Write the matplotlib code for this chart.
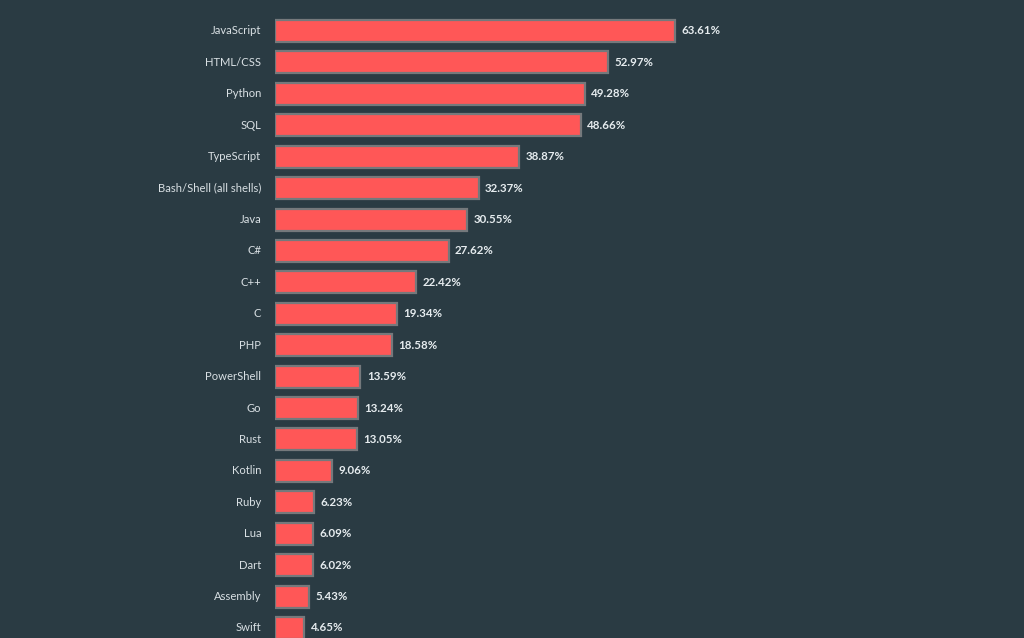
import matplotlib
matplotlib.use("Agg")
import matplotlib.pyplot as plt

# Most used programming languages (share of respondents, %)
languages = ["JavaScript", "HTML/CSS", "Python", "SQL", "TypeScript",
             "Bash/Shell (all shells)", "Java", "C#", "C++", "C", "PHP",
             "PowerShell", "Go", "Rust", "Kotlin", "Ruby", "Lua", "Dart",
             "Assembly", "Swift"]
shares = [63.61, 52.97, 49.28, 48.66, 38.87, 32.37, 30.55, 27.62, 22.42,
          19.34, 18.58, 13.59, 13.24, 13.05, 9.06, 6.23, 6.09, 6.02,
          5.43, 4.65]

bg = "#2a3b43"
bar_color = "#ff5757"
edge_color = "#75797c"
label_color = "#d9e0e4"

fig = plt.figure(figsize=(10.24, 6.38), dpi=100, facecolor=bg)
# axes starts where the bars start (x = 275 px) and fills the rest
ax = fig.add_axes([275 / 1024, 0, 1 - 275 / 1024, 1], facecolor=bg)

pos = list(range(len(languages)))
ax.barh(pos, shares, height=0.7, color=bar_color, edgecolor=edge_color,
        linewidth=1.6)

ax.set_xlim(0, 749 / 6.29)
ax.set_ylim((638 - 31) / 31.42, -31 / 31.42)

for i, (name, val) in enumerate(zip(languages, shares)):
    ax.text(-2.2, i, name, ha="right", va="center", color=label_color,
            fontsize=8.1, family="Lato")
    ax.text(val + 1.0, i, f"{val:.2f}%", ha="left", va="center",
            color="#e6ecef", fontsize=8.3, fontweight="bold",
            family="Lato")

ax.axis("off")
fig.savefig("out.png", dpi=100, facecolor=bg)
